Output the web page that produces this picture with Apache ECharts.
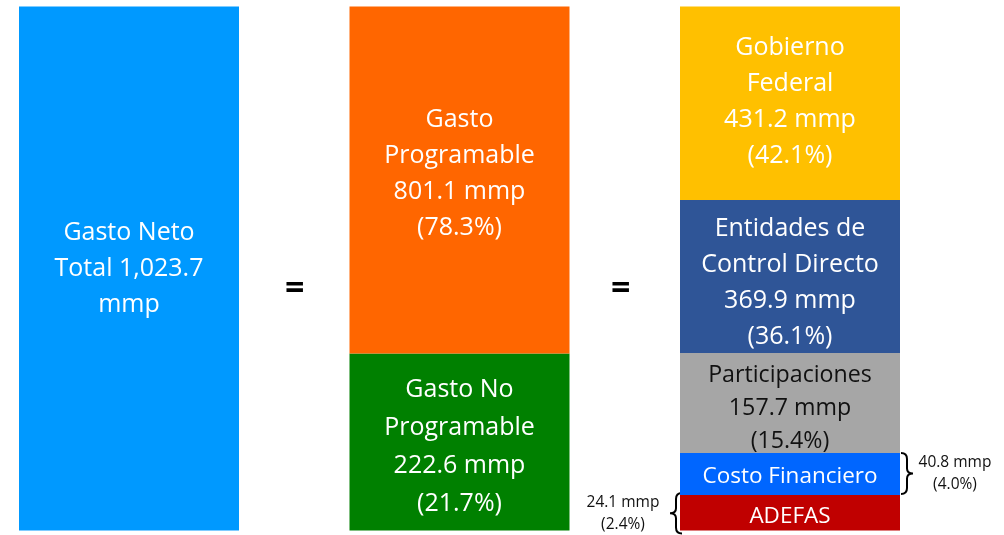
<!DOCTYPE html>
<html>
<head>
<meta charset="utf-8">
<script src="https://cdn.jsdelivr.net/npm/echarts@6/dist/echarts.min.js"></script>
<style>
  html, body { margin: 0; padding: 0; background: #ffffff; }
  #chart { width: 1004px; height: 535px; }
</style>
</head>
<body>
<div id="chart"></div>
<script>
// ---- Data ----
const categories = ['Gasto Neto', 'Clasificación 1', 'Clasificación 2'];
const totalValue = 1023.7;
// segments (bottom to top within each column)
const segNames = ['Gasto Neto Total', 'Gasto No Programable', 'Gasto Programable',
  'ADEFAS', 'Costo Financiero', 'Participaciones', 'Entidades de Control Directo', 'Gobierno Federal'];
const segColumn = [0, 1, 1, 2, 2, 2, 2, 2];
const segValues = [1023.7, 222.6, 801.1, 24.1, 40.8, 157.7, 369.9, 431.2];   // mmp
const segShares = [100.0, 21.7, 78.3, 2.4, 4.0, 15.4, 36.1, 42.1];           // %
// drawn heights of the segments (same units, sum = total)
const segDrawn = [1023.7, 345.8, 677.9, 69.4, 82.0, 195.4, 298.9, 378.0];
const segLabelLines = [
  ['Gasto Neto', 'Total 1,023.7', 'mmp'],
  ['Gasto No', 'Programable'],
  ['Gasto', 'Programable'],
  ['ADEFAS'],
  ['Costo Financiero'],
  ['Participaciones'],
  ['Entidades de', 'Control Directo'],
  ['Gobierno', 'Federal']
];
const segShowValue = [false, true, true, false, false, true, true, true];
// side notes with braces: [segment index, side]
const sideNotes = [[4, 'right'], [3, 'left']];

// ---- Styles ----
const segColors = ['#0099FF', '#008000', '#FF6600', '#C00000', '#0066FF', '#A6A6A6', '#2F5597', '#FFC000'];
const segTextColors = ['#fff', '#fff', '#fff', '#fff', '#fff', '#111', '#fff', '#fff'];
const segFontSize = [25, 25, 25, 22.5, 22.5, 23.2, 25, 25];
const segLineHeight = [36, 38, 36, 26, 28, 33, 36, 36];
const segLabelDy = [0, 5, -6, 4, 3, 5, 6, -1];
const FONT = '"Open Sans", "Liberation Sans", sans-serif';

const fmt1 = v => v.toFixed(1);

const series = segNames.map((name, i) => {
  const data = categories.map((c, ci) => ci === segColumn[i] ? segDrawn[i] : '-');
  const lines = segLabelLines[i].slice();
  if (segShowValue[i]) {
    lines.push(fmt1(segValues[i]) + ' mmp');
    lines.push('(' + fmt1(segShares[i]) + '%)');
  }
  return {
    name: name,
    type: 'bar',
    stack: 'all',
    barWidth: 220,
    data: data,
    itemStyle: { color: segColors[i] },
    label: {
      show: true,
      position: 'inside',
      offset: [0, segLabelDy[i]],
      formatter: lines.join('\n'),
      color: segTextColors[i],
      fontFamily: FONT,
      fontSize: segFontSize[i],
      lineHeight: segLineHeight[i],
      align: 'center'
    },
    emphasis: { disabled: true },
    animation: false
  };
});

// brace annotations
const noteData = sideNotes.map(([si, side]) => {
  let low = 0;
  for (let k = 0; k < si; k++) if (segColumn[k] === segColumn[si]) low += segDrawn[k];
  return [segColumn[si], low, low + segDrawn[si], side === 'right' ? 1 : -1,
          fmt1(segValues[si]) + ' mmp', '(' + fmt1(segShares[si]) + '%)'];
});

series.push({
  type: 'custom',
  data: noteData,
  encode: { x: 0, y: [1, 2] },
  clip: false,
  silent: true,
  animation: false,
  renderItem: function (params, api) {
    const ci = api.value(0);
    const dir = api.value(3);
    const pLow = api.coord([ci, api.value(1)]);
    const pHigh = api.coord([ci, api.value(2)]);
    const half = 110;
    const x0 = pLow[0] + dir * (half + (dir > 0 ? 1 : -2));
    const yt = pHigh[1] - (dir > 0 ? 0 : 2);
    const yb = pLow[1] + (dir > 0 ? -1 : 3);
    const ym = (yt + yb) / 2;
    const s = dir * 6, t = dir * 12;
    const path = 'M' + x0 + ',' + yt +
      ' Q' + (x0 + s) + ',' + yt + ' ' + (x0 + s) + ',' + (yt + 6) +
      ' L' + (x0 + s) + ',' + (ym - 5) +
      ' Q' + (x0 + s) + ',' + ym + ' ' + (x0 + t) + ',' + ym +
      ' Q' + (x0 + s) + ',' + ym + ' ' + (x0 + s) + ',' + (ym + 5) +
      ' L' + (x0 + s) + ',' + (yb - 6) +
      ' Q' + (x0 + s) + ',' + yb + ' ' + x0 + ',' + yb;
    const tx = x0 + dir * (dir > 0 ? 54 : 59);
    return {
      type: 'group',
      children: [
        { type: 'path', shape: { pathData: path },
          style: { fill: 'none', stroke: '#000', lineWidth: 2 } },
        { type: 'text', style: { text: api.value(4), x: tx, y: ym - 11, align: 'center',
          verticalAlign: 'middle', font: '15.5px ' + FONT, fill: '#111' } },
        { type: 'text', style: { text: api.value(5), x: tx, y: ym + 11, align: 'center',
          verticalAlign: 'middle', font: '15.5px ' + FONT, fill: '#111' } }
      ]
    };
  }
});

const chart = echarts.init(document.getElementById('chart'), null, { renderer: 'canvas' });
chart.setOption({
  backgroundColor: '#ffffff',
  animation: false,
  grid: { left: 129, right: 214, top: 6.5, bottom: 4.5 },
  xAxis: {
    type: 'category', data: categories, boundaryGap: false, show: false
  },
  yAxis: { type: 'value', min: 0, max: totalValue, show: false },
  graphic: [
    { type: 'text', left: 285, top: 272, style: { text: '=', font: 'bold 34px ' + FONT, fill: '#000' } },
    { type: 'text', left: 611, top: 272, style: { text: '=', font: 'bold 34px ' + FONT, fill: '#000' } }
  ],
  series: series
});
</script>
</body>
</html>
